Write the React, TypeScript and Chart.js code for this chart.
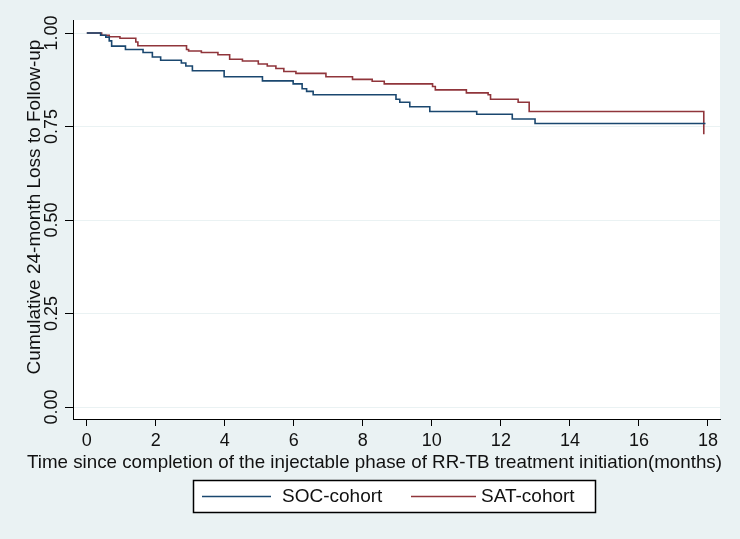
import React, { useEffect, useRef } from "react";
import { Chart, registerables } from "chart.js";

Chart.register(...registerables);

// ---- Data ----
const socTimes = [0, 0.40, 0.55, 0.65, 0.72, 1.12, 1.63, 1.90, 2.14, 2.74, 2.87, 3.06, 3.98, 5.09, 5.98, 6.24, 6.37, 6.56, 8.96, 9.07, 9.36, 9.94, 11.3, 12.33, 12.99, 17.93];
const socSurv = [1.0, 0.994, 0.989, 0.979, 0.965, 0.956, 0.948, 0.936, 0.927, 0.920, 0.912, 0.899, 0.883, 0.872, 0.864, 0.851, 0.844, 0.835, 0.823, 0.815, 0.803, 0.790, 0.783, 0.770, 0.758, 0.758];

const satTimes = [0, 0.43, 0.65, 0.96, 1.42, 1.48, 2.89, 2.95, 3.32, 3.80, 4.14, 4.51, 4.97, 5.23, 5.48, 5.71, 6.06, 6.93, 7.70, 8.27, 8.62, 10.02, 10.10, 11.0, 11.63, 11.70, 12.50, 12.82, 17.88, 17.88];
const satSurv = [1.0, 0.994, 0.990, 0.986, 0.976, 0.966, 0.956, 0.952, 0.948, 0.942, 0.930, 0.925, 0.917, 0.912, 0.905, 0.897, 0.892, 0.883, 0.876, 0.871, 0.864, 0.857, 0.848, 0.840, 0.835, 0.823, 0.815, 0.790, 0.790, 0.729];

const seriesNames = ["SOC-cohort", "SAT-cohort"];
const xTicks = [0, 2, 4, 6, 8, 10, 12, 14, 16, 18];
const yTicks = [0, 0.25, 0.5, 0.75, 1];
const yTickLabels = ["0.00", "0.25", "0.50", "0.75", "1.00"];
const xTitle = "Time since completion of the injectable phase of RR-TB treatment initiation(months)";
const yTitle = "Cumulative 24-month Loss to Follow-up";

const BLUE = "#1a476f";
const RED = "#90353b";
const BG = "#eaf2f3";
const FONT = "'Liberation Sans', Arial, sans-serif";
const TEXT = "#111111";

const decorPlugin = {
  id: "stataDecor",
  beforeDraw(chart: any) {
    const { ctx, chartArea } = chart;
    ctx.save();
    ctx.fillStyle = BG;
    ctx.fillRect(0, 0, chart.width, chart.height);
    ctx.fillStyle = "#ffffff";
    ctx.fillRect(chartArea.left, chartArea.top, chartArea.right - chartArea.left, chartArea.bottom - chartArea.top);
    ctx.restore();
  },
  afterDraw(chart: any) {
    const { ctx } = chart;
    const xs = chart.scales.x;
    const ys = chart.scales.y;
    ctx.save();
    ctx.fillStyle = TEXT;

    // y tick labels (rotated)
    ctx.font = `18px ${FONT}`;
    ctx.textAlign = "center";
    ctx.textBaseline = "alphabetic";
    yTicks.forEach((v, i) => {
      const py = ys.getPixelForValue(v);
      ctx.save();
      ctx.translate(57, py);
      ctx.rotate(-Math.PI / 2);
      ctx.fillText(yTickLabels[i], 0, 0);
      ctx.restore();
    });

    // x tick labels
    xTicks.forEach((v) => {
      const px = xs.getPixelForValue(v);
      ctx.fillText(String(v), px, 446);
    });

    // y title
    ctx.font = `19px ${FONT}`;
    ctx.save();
    ctx.translate(40, 207);
    ctx.rotate(-Math.PI / 2);
    ctx.fillText(yTitle, 0, 0);
    ctx.restore();

    // x title, fitted to reference width
    const w = ctx.measureText(xTitle).width;
    const target = 695;
    ctx.save();
    ctx.translate(374.5, 468);
    ctx.scale(target / w, 1);
    ctx.fillText(xTitle, 0, 0);
    ctx.restore();

    // legend
    ctx.fillStyle = "#ffffff";
    ctx.fillRect(193, 480, 402, 32);
    ctx.strokeStyle = "#000000";
    ctx.lineWidth = 1.5;
    ctx.strokeRect(193.5, 480.5, 402, 32);
    const items = [
      { x0: 202, x1: 271, tx: 282, color: BLUE, label: seriesNames[0] },
      { x0: 411, x1: 476, tx: 481, color: RED, label: seriesNames[1] },
    ];
    items.forEach((it) => {
      ctx.strokeStyle = it.color;
      ctx.lineWidth = 1.6;
      ctx.beginPath();
      ctx.moveTo(it.x0, 496.5);
      ctx.lineTo(it.x1, 496.5);
      ctx.stroke();
      ctx.fillStyle = TEXT;
      ctx.font = `19px ${FONT}`;
      ctx.textAlign = "left";
      ctx.fillText(it.label, it.tx, 502);
    });
    ctx.restore();
  },
};

export default function App() {
  const ref = useRef<HTMLCanvasElement | null>(null);
  useEffect(() => {
    if (!ref.current) return;
    const chart = new Chart(ref.current, {
      type: "line",
      data: {
        datasets: [
          {
            label: seriesNames[0],
            data: socTimes.map((t, i) => ({ x: t, y: socSurv[i] })),
            borderColor: BLUE,
            borderWidth: 1.6,
            pointRadius: 0,
            stepped: true,
            fill: false,
          },
          {
            label: seriesNames[1],
            data: satTimes.map((t, i) => ({ x: t, y: satSurv[i] })),
            borderColor: RED,
            borderWidth: 1.6,
            pointRadius: 0,
            stepped: true,
            fill: false,
          },
        ],
      },
      options: {
        responsive: false,
        animation: false,
        events: [],
        layout: { padding: { left: 63, right: 20, top: 20, bottom: 0 } },
        plugins: { legend: { display: false }, tooltip: { enabled: false }, title: { display: false } },
        scales: {
          x: {
            type: "linear",
            min: -0.4,
            max: 18.35,
            afterBuildTicks: (s: any) => {
              s.ticks = xTicks.map((v) => ({ value: v }));
            },
            afterFit: (s: any) => {
              s.height = 120;
            },
            ticks: { display: false },
            grid: { drawOnChartArea: false, drawTicks: true, tickLength: 7, tickColor: "#000", tickWidth: 1 },
            border: { display: true, color: "#000", width: 1 },
          },
          y: {
            type: "linear",
            min: -0.032,
            max: 1.0348,
            afterBuildTicks: (s: any) => {
              s.ticks = yTicks.map((v) => ({ value: v }));
            },
            afterFit: (s: any) => {
              s.width = 10;
            },
            ticks: { display: false },
            grid: { color: BG, lineWidth: 1, drawTicks: true, tickLength: 8, tickColor: "#000", tickWidth: 1 },
            border: { display: true, color: "#000", width: 1 },
          },
        },
      },
      plugins: [decorPlugin],
    });
    return () => chart.destroy();
  }, []);
  return (
    <div style={{ position: "fixed", left: 0, top: 0, width: 740, height: 539 }}>
      <canvas ref={ref} width={740} height={539} />
    </div>
  );
}
